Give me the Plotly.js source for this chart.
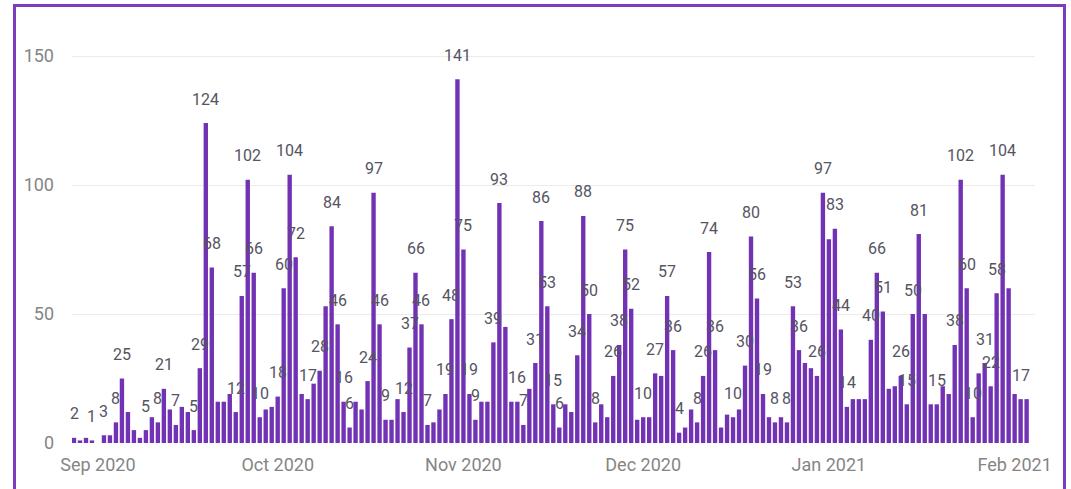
<!DOCTYPE html>
<html>
<head>
<meta charset="utf-8">
<script src="https://cdn.plot.ly/plotly-3.0.1.min.js"></script>
<style>
html,body{margin:0;padding:0;background:#ffffff;}
#wrap{position:relative;width:1071px;height:489px;overflow:hidden;background:#fff;}
#chart{position:absolute;left:0;top:0;width:1071px;height:489px;}
#frame{position:absolute;left:13px;top:4px;width:1053px;height:600px;border:3px solid #7B3DBE;box-sizing:border-box;pointer-events:none;}
</style>
</head>
<body>
<div id="wrap"><div id="chart"></div><div id="frame"></div></div>
<script>
// Daily values (Aug 28 2020 - Feb 3 2021)
const aug2020 = [2, 1, 2, 1]; // Aug 28..31
const sep2020 = [0, 3, 3, 8, 25, 12, 5, 2, 5, 10, 8, 21, 13, 7, 14, 12, 5, 29, 124, 68, 16, 16, 19, 12, 57, 102, 66, 10, 13, 14];
const oct2020 = [18, 60, 104, 72, 19, 17, 23, 28, 53, 84, 46, 16, 6, 16, 13, 24, 97, 46, 9, 9, 17, 12, 37, 66, 46, 7, 8, 13, 19, 48, 141];
const nov2020 = [75, 19, 9, 16, 16, 39, 93, 45, 16, 16, 7, 21, 31, 86, 53, 15, 6, 15, 12, 34, 88, 50, 8, 15, 10, 26, 38, 75, 52, 9];
const dec2020 = [10, 10, 27, 26, 57, 36, 4, 6, 13, 8, 26, 74, 36, 6, 11, 10, 13, 30, 80, 56, 19, 10, 8, 10, 8, 53, 36, 31, 29, 26, 97];
const jan2021 = [79, 83, 44, 14, 17, 17, 17, 40, 66, 51, 21, 22, 26, 15, 50, 81, 50, 15, 15, 22, 19, 38, 102, 60, 10, 27, 31, 22, 58, 104, 60];
const feb2021 = [19, 17, 17]; // Feb 1..3

// Days that carry a data label in the reference
const augLabelDays = [28, 31];
const sepLabelDays = [2, 4, 5, 9, 11, 12, 14, 17, 18, 19, 20, 24, 25, 26, 27, 28];
const octLabelDays = [1, 2, 3, 4, 6, 8, 10, 11, 12, 13, 16, 17, 18, 19, 22, 23, 24, 25, 26, 29, 30, 31];
const novLabelDays = [1, 2, 3, 6, 7, 10, 11, 13, 14, 15, 16, 17, 20, 21, 22, 23, 26, 27, 28, 29];
const decLabelDays = [1, 3, 5, 6, 7, 10, 11, 12, 13, 16, 18, 19, 20, 21, 23, 25, 26, 27, 30, 31];
const janLabelDays = [2, 3, 4, 8, 9, 10, 13, 14, 15, 16, 19, 22, 23, 24, 25, 27, 28, 29, 30];
const febLabelDays = [2];

const yTicks = [0, 50, 100, 150];

const months = [
  {y: 2020, m: 8, first: 28, vals: aug2020, lab: augLabelDays},
  {y: 2020, m: 9, first: 1, vals: sep2020, lab: sepLabelDays},
  {y: 2020, m: 10, first: 1, vals: oct2020, lab: octLabelDays},
  {y: 2020, m: 11, first: 1, vals: nov2020, lab: novLabelDays},
  {y: 2020, m: 12, first: 1, vals: dec2020, lab: decLabelDays},
  {y: 2021, m: 1, first: 1, vals: jan2021, lab: janLabelDays},
  {y: 2021, m: 2, first: 1, vals: feb2021, lab: febLabelDays}
];
const pad = n => (n < 10 ? '0' : '') + n;

const xs = [], ys = [], annotations = [];
const labelFont = {family: 'Roboto, Liberation Sans, sans-serif', size: 16, color: '#55545f'};
months.forEach(mo => {
  mo.vals.forEach((v, i) => {
    const day = mo.first + i;
    const d = mo.y + '-' + pad(mo.m) + '-' + pad(day);
    xs.push(d); ys.push(v);
    if (mo.lab.indexOf(day) >= 0) {
      annotations.push({x: d, y: v, xref: 'x', yref: 'y', text: String(v), showarrow: false,
        yanchor: 'middle', xanchor: 'center', yshift: 24, font: labelFont});
    }
  });
});

const trace = {
  type: 'bar', x: xs, y: ys,
  marker: {color: '#7232B4', line: {width: 0}},
  hoverinfo: 'x+y'
};

const axisFont = {family: 'Roboto, Liberation Sans, sans-serif', size: 18, color: '#858585'};
const layout = {
  width: 1071, height: 489,
  margin: {l: 72, r: 36, t: 40, b: 46, pad: 0},
  paper_bgcolor: 'rgba(0,0,0,0)', plot_bgcolor: 'rgba(0,0,0,0)',
  showlegend: false,
  bargap: 0.27,
  xaxis: {
    type: 'date',
    range: ['2020-08-27 16:00', '2021-02-04 09:36'],
    dtick: 'M1', tickformat: '%b %Y',
    showgrid: false, zeroline: false, showline: false, ticks: '',
    tickfont: axisFont, ticklabelstandoff: 9, fixedrange: true
  },
  yaxis: {
    range: [0, 156.2],
    tickvals: yTicks, ticktext: yTicks.map(String),
    showgrid: true, gridcolor: '#EBEBEB', gridwidth: 1,
    zeroline: false, showline: false, ticks: '',
    tickfont: axisFont, ticklabelstandoff: 17, fixedrange: true
  },
  annotations: annotations
};

Plotly.newPlot('chart', [trace], layout, {displayModeBar: false, staticPlot: true});
</script>
</body>
</html>
